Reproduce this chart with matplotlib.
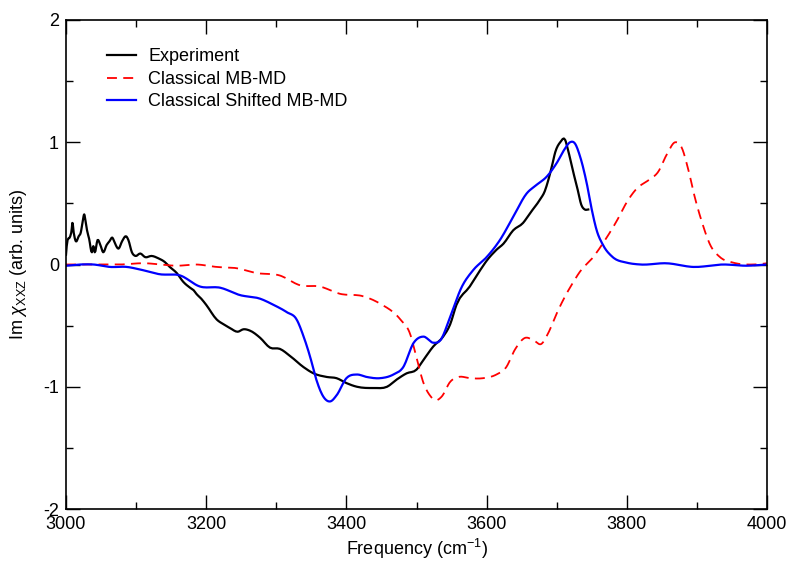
import numpy as np
import matplotlib
matplotlib.use('Agg')
import matplotlib.pyplot as plt
from matplotlib.ticker import MultipleLocator

plt.rcParams['font.family'] = ['Liberation Sans', 'DejaVu Sans']
plt.rcParams['axes.unicode_minus'] = False
plt.rcParams['mathtext.fontset'] = 'custom'
plt.rcParams['mathtext.rm'] = 'Liberation Sans'
plt.rcParams['mathtext.it'] = 'Liberation Sans:italic'

# Experiment
exp_freq = [3000, 3001, 3006, 3008, 3009, 3011, 3014, 3018, 3021, 3024, 3026, 3028, 3030, 3033,
            3037, 3039, 3041, 3045, 3049, 3053, 3058, 3062, 3066, 3070, 3075, 3080, 3086, 3089,
            3094, 3099, 3106, 3113, 3122, 3132, 3141, 3148, 3158, 3167, 3177, 3182, 3186, 3193,
            3200, 3215, 3225, 3234, 3245, 3253, 3262, 3277, 3291, 3305, 3320, 3339, 3353, 3372,
            3386, 3400, 3415, 3439, 3458, 3472, 3486, 3500, 3510, 3524, 3538, 3548, 3557, 3576,
            3591, 3600, 3614, 3624, 3638, 3652, 3662, 3676, 3683, 3688, 3693, 3698, 3705, 3712,
            3716, 3723, 3730, 3735, 3740, 3745]
exp_val = [0.08, 0.15, 0.23, 0.28, 0.34, 0.26, 0.19, 0.23, 0.26, 0.36, 0.41, 0.35, 0.28, 0.21,
           0.10, 0.15, 0.10, 0.20, 0.16, 0.10, 0.16, 0.19, 0.22, 0.17, 0.13, 0.19, 0.23, 0.20,
           0.10, 0.07, 0.09, 0.06, 0.07, 0.05, 0.02, -0.02, -0.07, -0.14, -0.19, -0.21, -0.24, -0.28,
           -0.33, -0.45, -0.49, -0.52, -0.55, -0.53, -0.54, -0.60, -0.68, -0.69, -0.75, -0.84, -0.89, -0.92,
           -0.93, -0.97, -1.00, -1.01, -1.00, -0.94, -0.89, -0.86, -0.78, -0.67, -0.59, -0.49, -0.33, -0.18,
           -0.045, 0.03, 0.12, 0.17, 0.28, 0.34, 0.42, 0.53, 0.60, 0.69, 0.80, 0.92, 1.00, 1.02,
           0.94, 0.77, 0.61, 0.49, 0.45, 0.45]

# Classical MB-MD
mb_freq = [3000, 3040, 3077, 3115, 3134, 3158, 3186, 3215, 3243, 3272, 3305, 3334, 3362, 3391,
           3424, 3448, 3477, 3491, 3500, 3510, 3519, 3527, 3536, 3548, 3560, 3576, 3595, 3614,
           3628, 3640, 3655, 3667, 3678, 3688, 3700, 3712, 3723, 3733, 3752, 3769, 3786, 3800,
           3814, 3831, 3845, 3857, 3869, 3878, 3888, 3897, 3907, 3919, 3933, 3952, 3981, 4000]
mb_val = [0.0, 0.0, 0.0, 0.01, 0.0, -0.01, 0.0, -0.02, -0.03, -0.07, -0.09, -0.17, -0.18, -0.24,
          -0.26, -0.32, -0.45, -0.57, -0.76, -0.97, -1.07, -1.11, -1.08, -0.96, -0.92, -0.93, -0.93, -0.90,
          -0.84, -0.70, -0.60, -0.62, -0.65, -0.56, -0.40, -0.26, -0.15, -0.06, 0.06, 0.20, 0.36, 0.51,
          0.62, 0.69, 0.76, 0.90, 1.00, 0.96, 0.77, 0.55, 0.35, 0.16, 0.06, 0.015, 0.0, 0.01]

# Classical Shifted MB-MD
sh_freq = [3000, 3020, 3039, 3063, 3087, 3105, 3134, 3163, 3191, 3220, 3248, 3277, 3296, 3315,
           3329, 3339, 3348, 3357, 3367, 3377, 3386, 3400, 3415, 3429, 3448, 3467, 3481, 3496,
           3510, 3524, 3534, 3548, 3564, 3581, 3600, 3619, 3638, 3657, 3671, 3686, 3700, 3712,
           3719, 3726, 3733, 3743, 3750, 3757, 3766, 3780, 3800, 3819, 3857, 3895, 3938, 3971, 4000]
sh_val = [-0.01, 0.0, 0.0, -0.02, -0.02, -0.04, -0.08, -0.09, -0.18, -0.19, -0.25, -0.28, -0.33, -0.39,
          -0.45, -0.59, -0.75, -0.94, -1.08, -1.12, -1.07, -0.93, -0.90, -0.92, -0.93, -0.90, -0.84, -0.64,
          -0.59, -0.64, -0.62, -0.43, -0.19, -0.045, 0.06, 0.20, 0.39, 0.58, 0.65, 0.72, 0.83, 0.95,
          1.00, 0.99, 0.89, 0.66, 0.45, 0.28, 0.16, 0.06, 0.015, 0.0, 0.01, -0.02, 0.0, -0.01, 0.0]


def spline(xp, yp, n=12):
    # curva morbida (Catmull-Rom) passante per i punti letti
    xp = np.asarray(xp, float)
    yp = np.asarray(yp, float)
    m = np.gradient(yp, xp)
    xs, ys = [], []
    for i in range(len(xp) - 1):
        h = xp[i + 1] - xp[i]
        t = np.linspace(0, 1, n, endpoint=False)
        h00 = 2 * t**3 - 3 * t**2 + 1
        h10 = t**3 - 2 * t**2 + t
        h01 = -2 * t**3 + 3 * t**2
        h11 = t**3 - t**2
        xs.append(xp[i] + t * h)
        ys.append(h00 * yp[i] + h10 * h * m[i] + h01 * yp[i + 1] + h11 * h * m[i + 1])
    xs.append([xp[-1]])
    ys.append([yp[-1]])
    return np.concatenate(xs), np.concatenate(ys)


fig = plt.figure(figsize=(7.9, 5.65), dpi=100)
ax = fig.add_axes([66 / 790, 1 - 509 / 565, 701 / 790, 489 / 565])

x, y = spline(exp_freq, exp_val, 4)
ax.plot(x, y, color='black', linewidth=1.6, label='Experiment')
x, y = spline(mb_freq, mb_val)
ax.plot(x, y, color='#ff0000', linewidth=1.3, linestyle=(0, (5.5, 3.5)), label='Classical MB-MD')
x, y = spline(sh_freq, sh_val)
ax.plot(x, y, color='#0000ff', linewidth=1.6, label='Classical Shifted MB-MD')

ax.set_xlim(3000, 4000)
ax.set_ylim(-2, 2)
ax.xaxis.set_major_locator(MultipleLocator(200))
ax.xaxis.set_minor_locator(MultipleLocator(100))
ax.yaxis.set_major_locator(MultipleLocator(1))
ax.yaxis.set_minor_locator(MultipleLocator(0.5))
ax.tick_params(which='both', direction='in', top=True, right=True, labelsize=13, width=1)
ax.tick_params(which='major', length=10, pad=5)
ax.tick_params(which='minor', length=5)
for s in ax.spines.values():
    s.set_linewidth(1.2)

ax.set_xlabel('Frequency (cm$^{-1}$)', fontsize=13, labelpad=3)
ax.set_ylabel(r'Im $\chi_{\mathrm{XXZ}}$ (arb. units)', fontsize=13, labelpad=10)

ax.legend(loc='upper left', bbox_to_anchor=(0.035, 0.975), frameon=False, fontsize=13,
          handlelength=1.6, handletextpad=0.7, labelspacing=0.3)

fig.savefig('out.png', dpi=100)
